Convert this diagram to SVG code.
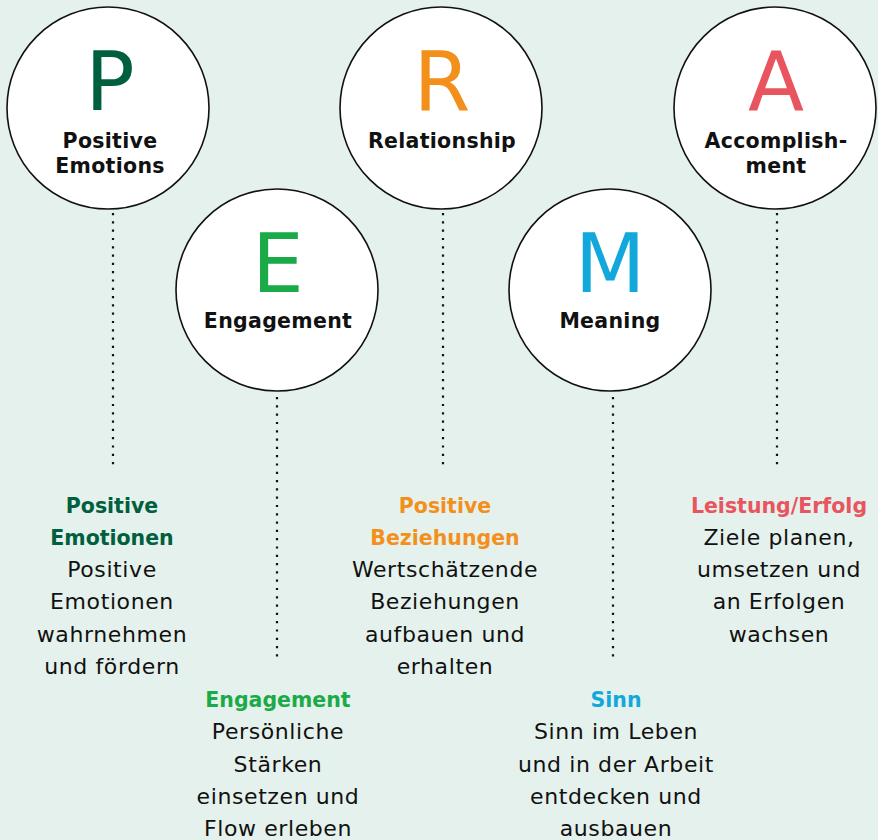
<svg xmlns="http://www.w3.org/2000/svg" width="878" height="840" viewBox="0 0 878 840">
  <style>
    .bg { fill: #e5f1ec; }
    .circle { fill: #ffffff; stroke: #111111; stroke-width: 1.6; }
    .letter { font-family: "DejaVu Sans", "Liberation Sans", sans-serif; font-size: 82px; text-anchor: middle; }
    .label { font-family: "DejaVu Sans", "Liberation Sans", sans-serif; font-size: 20.5px; font-weight: bold; letter-spacing: 0.3px; text-anchor: middle; fill: #111111; }
    .title { font-family: "DejaVu Sans", "Liberation Sans", sans-serif; font-size: 20.5px; font-weight: bold; text-anchor: middle; }
    .body { font-family: "DejaVu Sans", "Liberation Sans", sans-serif; font-size: 22px; letter-spacing: 0.6px; text-anchor: middle; fill: #111111; }
    .dots { stroke: #111111; stroke-width: 2.2; stroke-dasharray: 2.2 6.1; fill: none; }
    .p { fill: #005f3d; }
    .e { fill: #1aab48; }
    .r { fill: #f3901c; }
    .m { fill: #12a8dc; }
    .a { fill: #e8555f; }
  </style>

  <rect class="bg" x="0" y="0" width="878" height="840"/>

  <!-- dotted connectors from each circle down to its description -->
  <g id="connectors">
    <line class="dots" x1="113" y1="213" x2="113" y2="468"/>
    <line class="dots" x1="277" y1="397" x2="277" y2="658"/>
    <line class="dots" x1="443" y1="213" x2="443" y2="468"/>
    <line class="dots" x1="613" y1="397" x2="613" y2="658"/>
    <line class="dots" x1="777" y1="213" x2="777" y2="468"/>
  </g>

  <g id="node-p">
    <circle class="circle" cx="108" cy="108" r="101"/>
    <text class="letter p" x="110" y="110">P</text>
    <text class="label" x="110" y="148">Positive</text>
    <text class="label" x="110" y="173">Emotions</text>
  </g>

  <g id="node-e">
    <circle class="circle" cx="277" cy="290" r="101"/>
    <text class="letter e" x="278" y="292">E</text>
    <text class="label" x="278" y="328">Engagement</text>
  </g>

  <g id="node-r">
    <circle class="circle" cx="441" cy="108" r="101"/>
    <text class="letter r" x="442" y="110">R</text>
    <text class="label" x="442" y="148">Relationship</text>
  </g>

  <g id="node-m">
    <circle class="circle" cx="610" cy="290" r="101"/>
    <text class="letter m" x="610" y="292">M</text>
    <text class="label" x="610" y="328">Meaning</text>
  </g>

  <g id="node-a">
    <circle class="circle" cx="775" cy="108" r="101"/>
    <text class="letter a" x="776" y="110">A</text>
    <text class="label" x="776" y="148">Accomplish-</text>
    <text class="label" x="776" y="173">ment</text>
  </g>

  <!-- descriptions -->
  <g id="desc-p">
    <text class="title p" x="112" y="513">Positive</text>
    <text class="title p" x="112" y="545">Emotionen</text>
    <text class="body" x="112" y="577">Positive</text>
    <text class="body" x="112" y="609">Emotionen</text>
    <text class="body" x="112" y="642">wahrnehmen</text>
    <text class="body" x="112" y="674">und fördern</text>
  </g>

  <g id="desc-e">
    <text class="title e" x="278" y="707">Engagement</text>
    <text class="body" x="278" y="739">Persönliche</text>
    <text class="body" x="278" y="772">Stärken</text>
    <text class="body" x="278" y="804">einsetzen und</text>
    <text class="body" x="278" y="836">Flow erleben</text>
  </g>

  <g id="desc-r">
    <text class="title r" x="445" y="513">Positive</text>
    <text class="title r" x="445" y="545">Beziehungen</text>
    <text class="body" x="445" y="577">Wertschätzende</text>
    <text class="body" x="445" y="609">Beziehungen</text>
    <text class="body" x="445" y="642">aufbauen und</text>
    <text class="body" x="445" y="674">erhalten</text>
  </g>

  <g id="desc-m">
    <text class="title m" x="616" y="707">Sinn</text>
    <text class="body" x="616" y="739">Sinn im Leben</text>
    <text class="body" x="616" y="772">und in der Arbeit</text>
    <text class="body" x="616" y="804">entdecken und</text>
    <text class="body" x="616" y="836">ausbauen</text>
  </g>

  <g id="desc-a">
    <text class="title a" x="779" y="513">Leistung/Erfolg</text>
    <text class="body" x="779" y="545">Ziele planen,</text>
    <text class="body" x="779" y="577">umsetzen und</text>
    <text class="body" x="779" y="609">an Erfolgen</text>
    <text class="body" x="779" y="642">wachsen</text>
  </g>
</svg>
